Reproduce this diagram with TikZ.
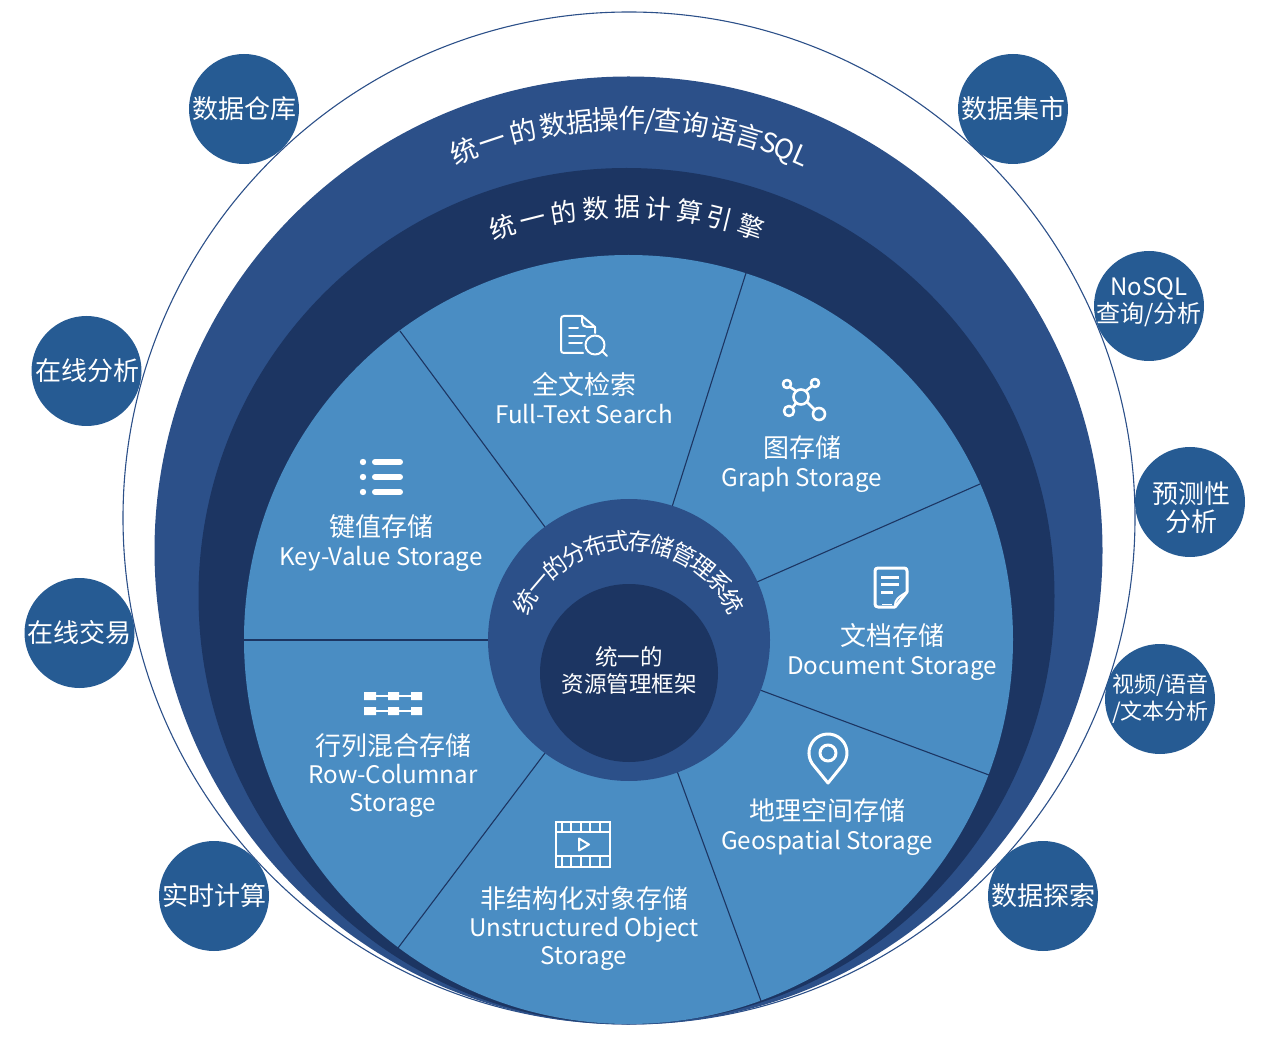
\documentclass[tikz,border=0pt]{standalone}
\usepackage{fontspec}
\setmainfont{Noto Sans CJK SC}
\definecolor{bandblue}{HTML}{2C5089}
\definecolor{darkblue}{HTML}{1C3562}
\definecolor{lightblue}{HTML}{4A8DC3}
\definecolor{bubblue}{HTML}{265B93}
\newcommand{\fs}[2]{\fontsize{#1}{#2}\selectfont}
\newcommand{\lat}[1]{{\fs{24.2}{28.2}#1}}
\newcommand{\slashch}{/}
\tikzset{
  bub/.style={circle,fill=bubblue,text=white,minimum size=110pt,inner sep=0pt,align=center,font=\fs{26}{26}},
  bubtext/.style={text=white,inner sep=0pt,align=center},
  seglabel/.style={text=white,inner sep=0pt,align=center,font=\fs{26}{28.2}},
  corelabel/.style={text=white,inner sep=0pt,align=center,font=\fs{22.5}{27}},
  arcglyph/.style={text=white,inner sep=0pt,anchor=base},
  sepline/.style={draw=darkblue,line width=1.1pt},
  iconline/.style={draw=white,line width=2pt,line cap=round,line join=round},
}
\begin{document}
\begin{tikzpicture}[x=1pt,y=-1pt]
\useasboundingbox (0,0) rectangle (1270,1040);
% concentric discs
\draw[bandblue,line width=1.1pt] (629,518) circle[radius=506];
\fill[bandblue] (628.5,550.5) circle[radius=474];
\fill[darkblue] (626.5,596) circle[radius=428];
\fill[lightblue] (628.5,639.5) circle[radius=384.5];
% sector separators
\coordinate (s1a) at (400,331); \coordinate (s1b) at (545,527);
\coordinate (s2a) at (746,273); \coordinate (s2b) at (672,507);
\coordinate (s3a) at (980,484); \coordinate (s3b) at (757,582);
\coordinate (s4a) at (989,775); \coordinate (s4b) at (760,690);
\coordinate (s5a) at (761,1001); \coordinate (s5b) at (677,771);
\coordinate (s6a) at (398,948); \coordinate (s6b) at (545,753);
\coordinate (s7a) at (244,640); \coordinate (s7b) at (488,640);
\foreach \k in {1,...,7} \draw[sepline] (s\k a) -- (s\k b);
% core
\fill[bandblue] (629,640) circle[radius=141];
\fill[darkblue] (629,673) circle[radius=89];
\node[corelabel] (core) at (629,670) {统一的\\资源管理框架};
% curved texts
\foreach \ch/\th [count=\i] in {统/-22.4,一/-18.4,的/-14.1,数/-10,据/-6.4,操/-3,作/0.5,\slashch/2.9,查/5.3,询/9,语/12.8,言/16.4,S/19.1,Q/21.3,L/23.7}
  \path ({628+421*sin(\th)},{550-421*cos(\th)}) node[arcglyph,rotate=-\th,font=\fs{27}{27}] (sql\i) {\ch};
\foreach \ch/\th [count=\i] in {统/-18.6,一/-14.1,的/-9.3,数/-4.7,据/0,计/4.6,算/9.3,引/13.7,擎/18.6}
  \path ({627+379*sin(\th)},{596-379*cos(\th)}) node[arcglyph,rotate=-\th,font=\fs{26}{26}] (eng\i) {\ch};
\foreach \ch/\th [count=\i] in {统/-60.5,一/-49.5,的/-38.5,分/-27.5,布/-16.5,式/-5.5,存/5.5,储/16.5,管/27.5,理/38.5,系/49.5,统/60.5}
  \path ({629+110*sin(\th)},{660-110*cos(\th)}) node[arcglyph,rotate=-\th,font=\fs{23.5}{24}] (sto\i) {\ch};
% segment labels
\node[seglabel] (l1) at (584,398) {全文检索\\\lat{Full-Text Search}};
\node[seglabel] (l2) at (802,464) {图存储\\\lat{Graph Storage}};
\node[seglabel] (l3) at (381,543) {键值存储\\\lat{Key-Value Storage}};
\node[seglabel] (l4) at (892,652) {文档存储\\\lat{Document Storage}};
\node[seglabel] (l5) at (393,775.5) {行列混合存储\\\lat{Row-Columnar}\\\lat{Storage}};
\node[seglabel] (l6) at (827,827) {地理空间存储\\\lat{Geospatial Storage}};
\node[seglabel] (l7) at (584,928.5) {非结构化对象存储\\\lat{Unstructured Object}\\\lat{Storage}};
% satellites
\node[bub] (b1) at (244,109) {数据仓库};
\node[bub] (b2) at (1013,109) {数据集市};
\node[bub] (b3) at (1149,306) {};
\node[bubtext,font=\fs{24}{27}] (b3t) at (1149,302.5) {NoSQL\\查询/分析};
\node[bub] (b4) at (1190,502) {};
\node[bubtext,font=\fs{26}{28}] (b4t) at (1191,507.5) {预测性\\分析};
\node[bub] (b5) at (1160,699) {};
\node[bubtext,font=\fs{22}{27}] (b5t) at (1160.5,698.5) {视频/语音\\/文本分析};
\node[bub] (b6) at (1043,896) {数据探索};
\node[bub] (b7) at (214,896) {实时计算};
\node[bub] (b8) at (79.5,633) {};
\node[bubtext,font=\fs{26}{26}] (b8t) at (79.5,633) {在线交易};
\node[bub] (b9) at (86.5,371) {};
\node[bubtext,font=\fs{26}{26}] (b9t) at (87,371) {在线分析};
% icon: full-text search
\draw[iconline] (583,353) -- (564,353) .. controls (562,353) and (561,352) .. (561,350) -- (561,319) .. controls (561,317) and (562,316) .. (564,316) -- (582,316) -- (595,327) -- (595,333);
\draw[iconline] (582,316) -- (582,322) .. controls (582,325) and (584,327) .. (587,327) -- (595,327);
\draw[iconline] (569,328) -- (578,328) (569,336) -- (585,336) (569,343) -- (582,343);
\draw[iconline] (595,345) circle[radius=9.5];
\draw[iconline] (602,351) -- (607,356);
% icon: graph
\draw[iconline,line width=2.6pt] (801,397) circle[radius=7.5] (787,384) circle[radius=4] (815,383) circle[radius=4] (789,411) circle[radius=5] (819,414) circle[radius=6];
\draw[iconline,line width=2.6pt] (790,387) -- (796,391) (812,386) -- (806,391) (793,407) -- (796,403) (815,410) -- (807,402);
% icon: key-value
\fill[white] (363,462) circle[radius=3.2] (363,477) circle[radius=3.2] (363,492) circle[radius=3.2];
\draw[white,line width=6pt,line cap=round] (375,462) -- (400,462) (375,477) -- (400,477) (375,492) -- (400,492);
% icon: document
\draw[iconline,line width=3pt] (895,607) -- (878,607) .. controls (876,607) and (875,606) .. (875,604) -- (875,571) .. controls (875,569) and (876,568) .. (878,568) -- (904,568) .. controls (906,568) and (907,569) .. (907,571) -- (907,592) -- (895,607);
\draw[iconline,line width=2pt] (895,605) .. controls (895,600) and (898,597) .. (907,592);
\draw[iconline,line cap=butt,line width=3pt] (881,577) -- (899,577) (881,584) -- (899,584) (881,592) -- (893,592);
\draw[white,line width=1pt] (882,604) -- (892,604);
% icon: row-columnar
\draw[white,line width=2pt] (370,696) -- (417,696) (370,711) -- (417,711);
\fill[white] (364,692) rectangle (376,700) (388,692) rectangle (399,700) (411,692) rectangle (422,700)
             (364,707) rectangle (376,715) (388,707) rectangle (399,715) (411,707) rectangle (422,715);
% icon: film
\draw[white,line width=2pt] (556,822) rectangle (610,867) (556,832) -- (610,832) (556,856) -- (610,856);
\foreach \vx in {562,571,581,590,600} \draw[white,line width=2pt] (\vx,822) -- (\vx,832) (\vx,856) -- (\vx,867);
\draw[iconline] (579,838.5) -- (589,844.5) -- (579,850.5) -- cycle;
% icon: pin
\draw[iconline,line width=3pt] (828,783) -- (812.4,763.9) arc[start angle=145,end angle=395,radius=19] -- cycle;
\draw[iconline,line width=3pt] (828,753) circle[radius=8];
\end{tikzpicture}
\end{document}
